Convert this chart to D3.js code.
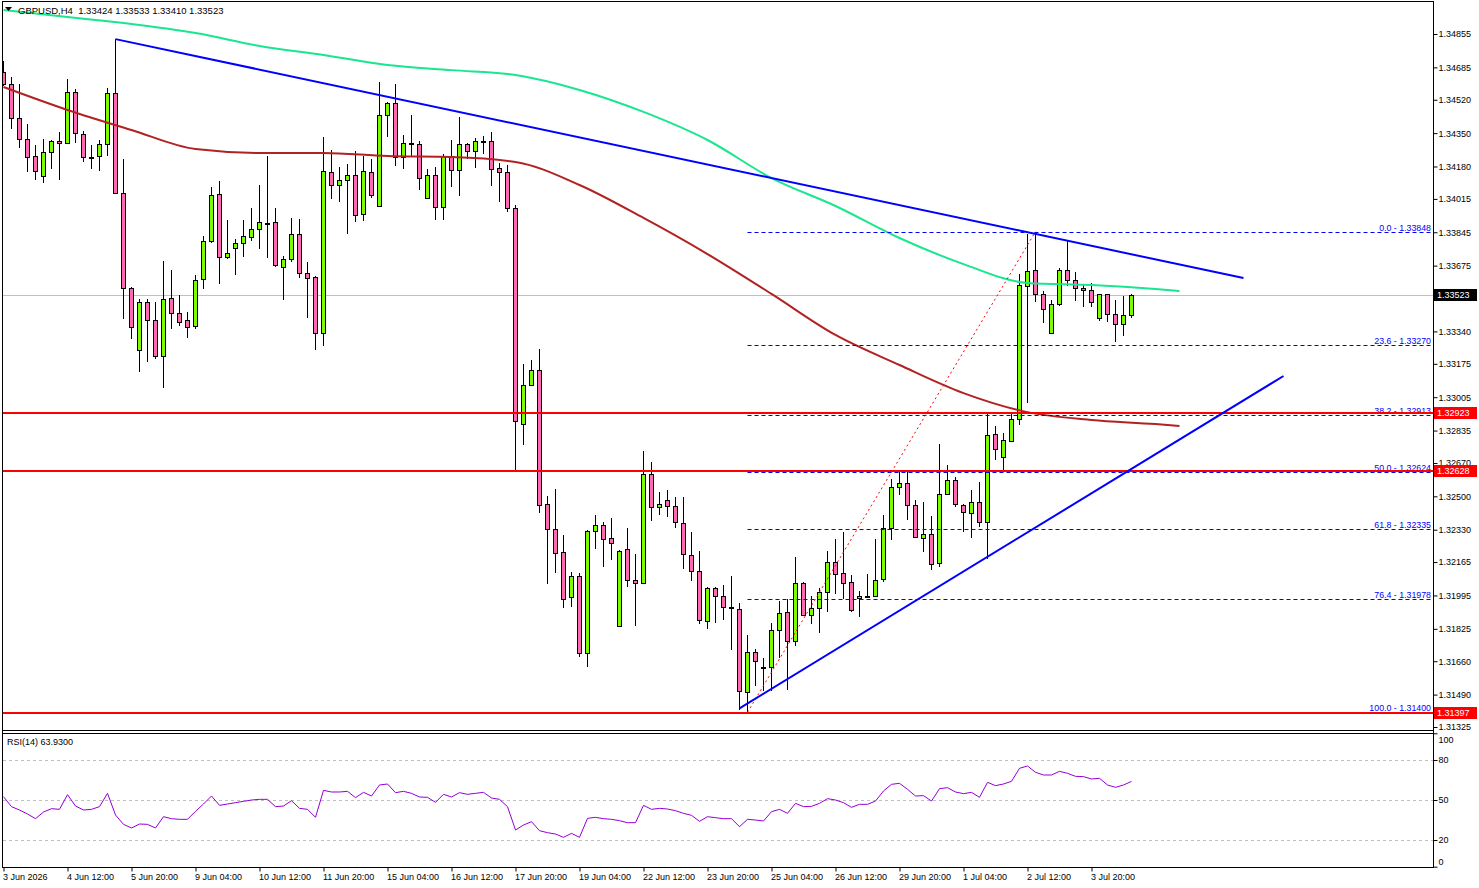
<!DOCTYPE html>
<html>
<head>
<meta charset="utf-8">
<title>GBPUSD,H4</title>
<script src="https://cdn.jsdelivr.net/npm/d3@7"></script>
<style>
  body { margin: 0; background: #fff; }
  svg { display: block; font-family: Tahoma, "Liberation Sans", Arial, sans-serif; }
</style>
</head>
<body>
<div id="chart"></div>
<script>
// H4 bars, first bar = 3 Jun 04:00
var opens = [1.34661,1.34600,1.34427,1.34320,1.34233,1.34131,1.34254,1.34310,1.34300,1.34559,
  1.34346,1.34228,1.34233,1.34295,1.34554,1.34045,1.33561,1.33245,1.33490,1.33398,
  1.33215,1.33510,1.33434,1.33398,1.33367,1.33607,1.33801,1.34040,1.33719,1.33765,
  1.33790,1.33821,1.33862,1.33892,1.33897,1.33668,1.33709,1.33836,1.33637,1.33617,
  1.33332,1.34152,1.34086,1.34111,1.34137,1.33938,1.34152,1.33979,1.34442,1.34503,
  1.34228,1.34300,1.34295,1.34019,1.34137,1.33974,1.34233,1.34162,1.34295,1.34259,
  1.34310,1.34310,1.34172,1.34152,1.33969,1.32868,1.33067,1.33143,1.32461,1.32333,
  1.32216,1.31987,1.32094,1.31702,1.32323,1.32354,1.32287,1.31839,1.32231,1.32074,
  1.32058,1.32613,1.32445,1.32481,1.32450,1.32364,1.32201,1.32119,1.31865,1.32033,
  1.31992,1.31936,1.31926,1.31503,1.31707,1.31630,1.31630,1.31819,1.31911,1.31763,
  1.32058,1.31895,1.31931,1.32012,1.32165,1.32109,1.32063,1.31982,1.31992,1.31992,
  1.32079,1.32338,1.32547,1.32568,1.32456,1.32287,1.32308,1.32160,1.32511,1.32583,
  1.32456,1.32415,1.32471,1.32369,1.32817,1.32700,1.32782,1.32894,1.33571,1.33653,
  1.33531,1.33332,1.33480,1.33653,1.33602,1.33561,1.33551,1.33408,1.33531,1.33429,
  1.33378,1.33424];
var highs = [1.34717,1.34635,1.34600,1.34397,1.34290,1.34320,1.34315,1.34356,1.34625,1.34574,
  1.34361,1.34290,1.34315,1.34580,1.34829,1.34218,1.33566,1.33505,1.33505,1.33490,
  1.33699,1.33653,1.33525,1.33439,1.33627,1.33826,1.34076,1.34106,1.33907,1.33811,
  1.33907,1.33969,1.34086,1.34233,1.33969,1.33724,1.33918,1.33913,1.33694,1.33622,
  1.34330,1.34264,1.34177,1.34193,1.34259,1.34233,1.34218,1.34610,1.34508,1.34600,
  1.34340,1.34442,1.34310,1.34167,1.34177,1.34244,1.34315,1.34432,1.34300,1.34325,
  1.34335,1.34356,1.34198,1.34187,1.33984,1.33174,1.33194,1.33250,1.32501,1.32537,
  1.32303,1.32114,1.32109,1.32328,1.32405,1.32369,1.32389,1.32226,1.32338,1.32206,
  1.32731,1.32675,1.32522,1.32532,1.32496,1.32496,1.32318,1.32221,1.32038,1.32038,
  1.32048,1.32094,1.31956,1.31793,1.31722,1.31676,1.31855,1.31967,1.31977,1.32191,
  1.32063,1.31992,1.32033,1.32221,1.32282,1.32318,1.32099,1.32017,1.32104,1.32282,
  1.32405,1.32588,1.32624,1.32624,1.32481,1.32471,1.32399,1.32766,1.32659,1.32598,
  1.32461,1.32532,1.32573,1.32919,1.32858,1.32822,1.32924,1.33632,1.33836,1.33848,
  1.33546,1.33500,1.33663,1.33801,1.33643,1.33576,1.33587,1.33533,1.33533,1.33500,
  1.33520,1.33533];
var lows = [1.34590,1.34371,1.34274,1.34152,1.34111,1.34096,1.34167,1.34111,1.34295,1.34300,
  1.34203,1.34167,1.34157,1.34233,1.34040,1.33403,1.33301,1.33133,1.33184,1.33199,
  1.33052,1.33352,1.33367,1.33306,1.33352,1.33556,1.33790,1.33581,1.33709,1.33627,
  1.33719,1.33801,1.33760,1.33714,1.33668,1.33500,1.33694,1.33612,1.33408,1.33245,
  1.33266,1.34014,1.33999,1.33836,1.33897,1.33902,1.34019,1.33975,1.34330,1.34182,
  1.34167,1.34233,1.34060,1.34015,1.33907,1.33907,1.34076,1.34030,1.34218,1.34172,
  1.34244,1.34081,1.33999,1.33948,1.32624,1.32761,1.33062,1.32415,1.32053,1.32109,
  1.31931,1.31936,1.31681,1.31630,1.32231,1.32140,1.32175,1.31834,1.32038,1.31839,
  1.32053,1.32374,1.32405,1.32394,1.32338,1.32130,1.32068,1.31850,1.31824,1.31855,
  1.31870,1.31717,1.31410,1.31400,1.31534,1.31508,1.31508,1.31676,1.31513,1.31737,
  1.31890,1.31850,1.31804,1.31911,1.32002,1.31977,1.31911,1.31885,1.31990,1.31990,
  1.32063,1.32277,1.32506,1.32379,1.32287,1.32216,1.32125,1.32140,1.32506,1.32445,
  1.32318,1.32287,1.32343,1.32180,1.32685,1.32634,1.32777,1.32863,1.32975,1.33490,
  1.33383,1.33328,1.33469,1.33571,1.33495,1.33464,1.33464,1.33393,1.33388,1.33286,
  1.33317,1.33410];
var closes = [1.34600,1.34427,1.34320,1.34228,1.34157,1.34254,1.34310,1.34300,1.34559,1.34351,
  1.34228,1.34226,1.34295,1.34554,1.34045,1.33561,1.33362,1.33490,1.33398,1.33215,
  1.33505,1.33434,1.33388,1.33362,1.33602,1.33801,1.34035,1.33719,1.33740,1.33790,
  1.33826,1.33862,1.33897,1.33890,1.33678,1.33709,1.33836,1.33637,1.33612,1.33332,
  1.34157,1.34086,1.34111,1.34137,1.33933,1.34157,1.34035,1.34442,1.34503,1.34228,
  1.34300,1.34298,1.34121,1.34137,1.33974,1.34233,1.34162,1.34295,1.34259,1.34310,
  1.34308,1.34167,1.34152,1.33969,1.32883,1.33067,1.33143,1.32456,1.32333,1.32211,
  1.31977,1.32094,1.31702,1.32323,1.32354,1.32282,1.32262,1.32221,1.32074,1.32058,
  1.32613,1.32445,1.32461,1.32450,1.32369,1.32206,1.32119,1.31870,1.32033,1.31992,
  1.31936,1.31934,1.31508,1.31707,1.31661,1.31628,1.31819,1.31906,1.31763,1.32058,
  1.31895,1.31931,1.32012,1.32165,1.32104,1.32058,1.31921,1.31992,1.31994,1.32074,
  1.32338,1.32547,1.32568,1.32456,1.32293,1.32308,1.32155,1.32511,1.32583,1.32461,
  1.32420,1.32471,1.32369,1.32812,1.32741,1.32787,1.32894,1.33576,1.33648,1.33531,
  1.33454,1.33480,1.33653,1.33602,1.33561,1.33551,1.33490,1.33531,1.33429,1.33378,
  1.33424,1.33523];

var rsi = [52.5,45,42.5,39.5,36,41,43.5,43,54,45.5,
  42.5,43,45,55,38.75,31.75,29,32,31.75,29,
  37.5,36,35.5,35.5,41.5,47,53,46,47,48,
  49,50,50.5,50.5,45,45.5,49.5,43.75,43,37,
  57.25,56,56,56.5,51.75,55.75,53,61.25,62,55.5,
  56.5,55,52.25,52,48.25,54.25,52.25,55.5,54.25,55,
  55.75,51.5,50.5,45,27.5,31.25,33.75,27,25.5,24.5,
  22,25,22,36.25,37,36,35.5,34.5,33,33,
  46,43,43.75,43.25,42,40,38.5,34,37.5,36.75,
  36,36,30,35.5,35,34.25,41.25,43,40,47.5,
  45,45.25,47.5,51,50,48,44.5,46.75,46.75,49.25,
  56.75,61.75,62.5,58,53,53.25,49.25,58.5,59.25,56,
  54.75,55.75,52,63.25,60.75,62,64,73.75,75.5,70.75,
  68.75,68.75,71.5,70,67.75,67.5,65.75,66.25,61.25,59.5,
  61.25,63.93];

// moving averages (drawn shifted forward), sampled at bar positions
var maBars = [0,8,16,24,32,40,48,56,64,72,80,88,96,104,112,120,128,136,144,147];
var maSlow = [1.34977,1.34941,1.34906,1.34860,1.34794,1.34748,1.34697,1.34671,1.34646,1.34570,
  1.34458,1.34315,1.34121,1.33979,1.33816,1.33683,1.33587,1.33576,1.33556,1.33546];
var maFast = [1.34585,1.34468,1.34366,1.34269,1.34249,1.34249,1.34233,1.34228,1.34203,1.34086,
  1.33918,1.33734,1.33531,1.33322,1.33169,1.33026,1.32929,1.32889,1.32868,1.32858];

var tickBars = [0,8,16,24,32,40,48,56,64,72,80,88,96,104,112,120,128,136];
var tickLabels = ["3 Jun 2026","4 Jun 12:00","5 Jun 20:00","9 Jun 04:00","10 Jun 12:00","11 Jun 20:00",
  "15 Jun 04:00","16 Jun 12:00","17 Jun 20:00","19 Jun 04:00","22 Jun 12:00","23 Jun 20:00",
  "25 Jun 04:00","26 Jun 12:00","29 Jun 20:00","1 Jul 04:00","2 Jul 12:00","3 Jul 20:00"];
var priceTicks = [1.34855,1.34685,1.34520,1.34350,1.34180,1.34015,1.33845,1.33675,1.33340,1.33175,
  1.33005,1.32835,1.32670,1.32500,1.32330,1.32165,1.31995,1.31825,1.31660,1.31490,1.31325];
var rsiTicks = [100,80,50,20,0];
var rsiLevels = [80,50,20];

var fibRatios = [0,23.6,38.2,50,61.8,76.4,100];
var fibPrices = [1.33848,1.33270,1.32913,1.32624,1.32335,1.31978,1.31400];
var redLevels = [1.32923,1.32628,1.31397];
var lastPrice = 1.33523;

// trend lines: [bar, price] pairs
var downTrend = [[14,1.34829],[155,1.33612]];
var upTrend = [[92,1.31420],[160,1.33113]];
var fibSwing = [[93,1.31400],[129,1.33848]];

var W = 1479, H = 888;
var svg = d3.select("#chart").append("svg").attr("width", W).attr("height", H);

var x = d3.scaleLinear().domain([0, 141]).range([3.5, 1131.5]);
var y = d3.scaleLinear().domain([1.31325, 1.34855]).range([727, 34]);
var yr = d3.scaleLinear().domain([0, 100]).range([866.7, 733.3]);

var defs = svg.append("defs");
defs.append("clipPath").attr("id", "clipMain").append("rect")
  .attr("x", 3).attr("y", 2).attr("width", 1430).attr("height", 728);
defs.append("clipPath").attr("id", "clipRsi").append("rect")
  .attr("x", 3).attr("y", 734).attr("width", 1430).attr("height", 133);

var main = svg.append("g").attr("clip-path", "url(#clipMain)");

// bid line behind the candles
main.append("line")
  .attr("x1", 3).attr("x2", 1433)
  .attr("y1", Math.round(y(lastPrice)) + 0.5).attr("y2", Math.round(y(lastPrice)) + 0.5)
  .attr("stroke", "#c0c0c0");

// candles
var bars = d3.range(opens.length).map(function (i) {
  return { i: i, o: opens[i], h: highs[i], l: lows[i], c: closes[i] };
});
main.append("g").selectAll("line").data(bars).enter().append("line")
  .attr("x1", d => x(d.i)).attr("x2", d => x(d.i))
  .attr("y1", d => Math.round(y(d.h))).attr("y2", d => Math.round(y(d.l)))
  .attr("stroke", "#000").attr("shape-rendering", "crispEdges");
main.append("g").selectAll("rect").data(bars).enter().append("rect")
  .attr("x", d => x(d.i) - 2).attr("width", 4)
  .attr("y", d => Math.round(y(Math.max(d.o, d.c))) + 0.5)
  .attr("height", d => Math.max(1, Math.round(y(Math.min(d.o, d.c))) - Math.round(y(Math.max(d.o, d.c)))))
  .attr("fill", d => d.c >= d.o ? "#7cfc00" : "#ff69b4")
  .attr("stroke", "#000").attr("shape-rendering", "crispEdges");

// moving averages
var maLine = d3.line().x((d, k) => x(maBars[k])).y(d => y(d)).curve(d3.curveMonotoneX);
main.append("path").datum(maSlow).attr("d", maLine)
  .attr("fill", "none").attr("stroke", "#19e68f").attr("stroke-width", 2);
main.append("path").datum(maFast).attr("d", maLine)
  .attr("fill", "none").attr("stroke", "#b22222").attr("stroke-width", 2);

// fibonacci levels
var fibX0 = x(fibSwing[0][0]);
fibPrices.forEach(function (p, k) {
  var yy = Math.round(y(p)) + 0.5;
  main.append("line").attr("x1", fibX0).attr("x2", 1433).attr("y1", yy).attr("y2", yy)
    .attr("stroke", "#0000ff").attr("stroke-dasharray", "4,3");
  main.append("text").attr("x", 1431).attr("y", yy - 2)
    .attr("text-anchor", "end").attr("font-size", "8.8px").attr("fill", "#0000ff")
    .text(fibRatios[k].toFixed(1) + " - " + p.toFixed(5));
});
main.append("line")
  .attr("x1", x(fibSwing[0][0])).attr("y1", y(fibSwing[0][1]))
  .attr("x2", x(fibSwing[1][0])).attr("y2", y(fibSwing[1][1]))
  .attr("stroke", "#ff0000").attr("stroke-dasharray", "2,3");

// horizontal support / resistance
redLevels.forEach(function (p) {
  var yy = Math.round(y(p));
  main.append("line").attr("x1", 3).attr("x2", 1433).attr("y1", yy).attr("y2", yy)
    .attr("stroke", "#ff0000").attr("stroke-width", 2);
});

// trend lines
[downTrend, upTrend].forEach(function (t) {
  main.append("line")
    .attr("x1", x(t[0][0])).attr("y1", y(t[0][1]))
    .attr("x2", x(t[1][0])).attr("y2", y(t[1][1]))
    .attr("stroke", "#0000ff").attr("stroke-width", 2);
});

// RSI panel
var rsiG = svg.append("g").attr("clip-path", "url(#clipRsi)");
rsiLevels.forEach(function (v) {
  rsiG.append("line").attr("x1", 3).attr("x2", 1433)
    .attr("y1", Math.round(yr(v)) + 0.5).attr("y2", Math.round(yr(v)) + 0.5)
    .attr("stroke", "#c0c0c0").attr("stroke-dasharray", "3,3");
});
rsiG.append("path").datum(rsi)
  .attr("d", d3.line().x((d, i) => x(i)).y(d => yr(d)))
  .attr("fill", "none").attr("stroke", "#9400d3").attr("stroke-width", 1);
svg.append("text").attr("x", 7).attr("y", 745).attr("font-size", "9px").attr("fill", "#000")
  .text("RSI(14) 63.9300");

// frames
var frame = svg.append("g").attr("stroke", "#000").attr("shape-rendering", "crispEdges");
frame.append("line").attr("x1", 2.5).attr("x2", 2.5).attr("y1", 1).attr("y2", 868);
frame.append("line").attr("x1", 2).attr("x2", 1434).attr("y1", 1.5).attr("y2", 1.5);
frame.append("line").attr("x1", 1433.5).attr("x2", 1433.5).attr("y1", 1).attr("y2", 868);
frame.append("line").attr("x1", 2).attr("x2", 1434).attr("y1", 730.5).attr("y2", 730.5);
frame.append("line").attr("x1", 2).attr("x2", 1434).attr("y1", 733.5).attr("y2", 733.5);
frame.append("line").attr("x1", 2).attr("x2", 1434).attr("y1", 867.5).attr("y2", 867.5);

// price axis
var yAxisG = svg.append("g").attr("transform", "translate(1433.5,0)")
  .call(d3.axisRight(y).tickValues(priceTicks).tickSize(4).tickPadding(1).tickFormat(d3.format(".5f")));
yAxisG.select(".domain").remove();
yAxisG.attr("font-size", 9).attr("font-family", null);

// price tags
function tag(p, fill) {
  var yy = Math.round(y(p));
  svg.append("rect").attr("x", 1434).attr("y", yy - 6).attr("width", 43).attr("height", 12).attr("fill", fill);
  svg.append("text").attr("x", 1437).attr("y", yy).attr("dy", "0.35em")
    .attr("font-size", "9px").attr("fill", "#fff").text(p.toFixed(5));
}
redLevels.forEach(function (p) { tag(p, "#ff0000"); });
tag(lastPrice, "#000");

// RSI axis
var rAxisG = svg.append("g").attr("transform", "translate(1433.5,0)")
  .call(d3.axisRight(yr).tickValues(rsiTicks).tickSize(4).tickPadding(1).tickFormat(d3.format("d")));
rAxisG.select(".domain").remove();
rAxisG.attr("font-size", 9).attr("font-family", null);
rAxisG.selectAll(".tick text").attr("dy", d => d === 100 ? "1.0em" : d === 0 ? "-0.3em" : "0.32em");

// time axis
var xAxisG = svg.append("g").attr("transform", "translate(0,867.5)")
  .call(d3.axisBottom(x).tickValues(tickBars).tickSize(4).tickPadding(2)
    .tickFormat((d, k) => tickLabels[k]));
xAxisG.select(".domain").remove();
xAxisG.attr("font-size", 9).attr("font-family", null);
xAxisG.selectAll(".tick text").attr("text-anchor", "start").attr("x", -1);

// title
svg.append("path").attr("d", "M5,7 L12,7 L8.5,11 Z").attr("fill", "#000");
svg.append("text").attr("x", 18).attr("y", 14).attr("font-size", "9.5px").attr("fill", "#000")
  .attr("xml:space", "preserve")
  .text("GBPUSD,H4  1.33424 1.33533 1.33410 1.33523");
</script>
</body>
</html>
